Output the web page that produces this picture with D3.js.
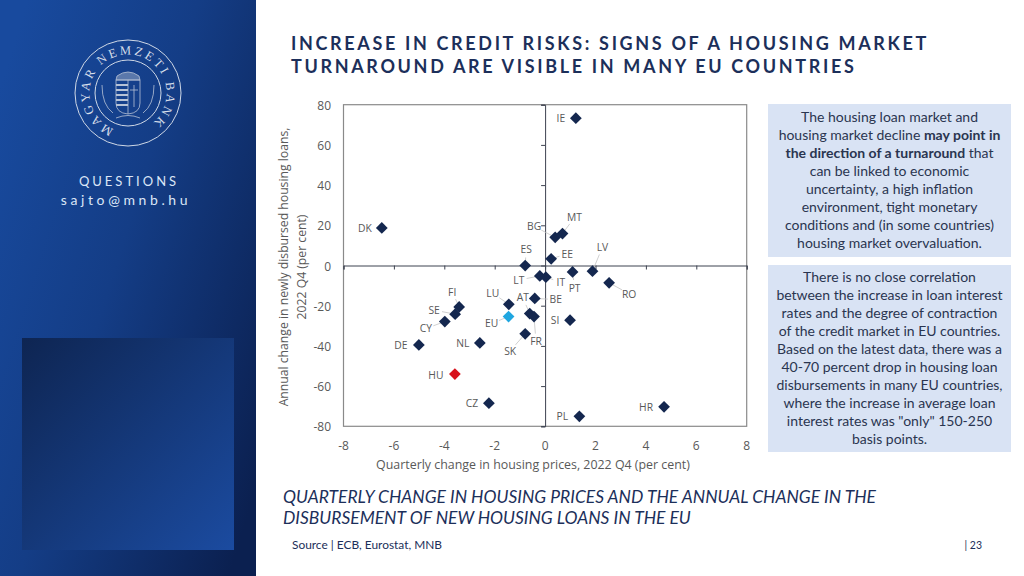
<!DOCTYPE html>
<html><head><meta charset="utf-8">
<script src="https://cdnjs.cloudflare.com/ajax/libs/d3/7.8.5/d3.min.js"></script>
<style>html,body{margin:0;padding:0;background:#fff;overflow:hidden}svg{display:block}</style>
</head><body><svg id="c" width="1024" height="576"></svg>
<script>
const countries=["IE","DK","BG","MT","EE","ES","LV","PT","RO","LT","IT","BE","SI","AT","FR","SK","LU","EU","FI","SE","CY","DE","NL","HU","CZ","PL","HR"];
const priceChange=[1.22,-6.48,0.4,0.69,0.24,-0.79,1.88,1.09,2.54,-0.21,0.03,-0.41,0.99,-0.61,-0.44,-0.79,-1.44,-1.45,-3.41,-3.57,-3.98,-5.01,-2.59,-3.58,-2.23,1.36,4.72];
const loanChange=[73.3,18.7,14,15.9,3.3,0,-2.8,-3.2,-8.6,-5.2,-5.8,-16.4,-27.2,-23.9,-25.4,-34,-19.3,-25.4,-20.6,-24.2,-27.9,-39.5,-38.5,-54,-68.5,-75,-70.3];
const xTicks=[-8,-6,-4,-2,0,2,4,6,8];
const yTicks=[-80,-60,-40,-20,0,20,40,60,80];
const titleLines=["INCREASE IN CREDIT RISKS: SIGNS OF A HOUSING MARKET","TURNAROUND ARE VISIBLE IN MANY EU COUNTRIES"];
const subtitleLines=["QUARTERLY CHANGE IN HOUSING PRICES AND THE ANNUAL CHANGE IN THE","DISBURSEMENT OF NEW HOUSING LOANS IN THE EU"];
const box1=[[["The housing loan market and",0]],[["housing market decline ",0],["may point in",1]],[["the direction of a turnaround",1],[" that",0]],[["can be linked to economic",0]],[["uncertainty, a high inflation",0]],[["environment, tight monetary",0]],[["conditions and (in some countries)",0]],[["housing market overvaluation.",0]]];
const box2=["There is no close correlation","between the increase in loan interest","rates and the degree of contraction","of the credit market in EU countries.","Based on the latest data, there was a","40-70 percent drop in housing loan","disbursements in many EU countries,","where the increase in average loan","interest rates was \"only\" 150-250","basis points."];

// label layout: pixel offset of each label from its marker; third entry = draw connector
const labelLayout={IE:[-15,0],DK:[-17,0],BG:[-21,-11,1],MT:[12,-16,1],EE:[16,-5,1],ES:[1,-16,1],LV:[10,-24,1],PT:[2,16,1],RO:[20,11,1],LT:[-21,4,1],IT:[15,5,1],BE:[21,1,1],SI:[-15,0],AT:[-7,-16,1],FR:[2,25,1],SK:[-15,17,1],LU:[-16,-11,1],EU:[-17,7,1],FI:[-7,-15,1],SE:[-21,-4,1],CY:[-19,7,1],DE:[-18,0],NL:[-17,0],HU:[-19,1],CZ:[-17,0],PL:[-17,0],HR:[-18,0]};

const svg=d3.select("#c"), defs=svg.append("defs");
function grad(id,x1,y1,x2,y2,stops){const g=defs.append("linearGradient").attr("id",id).attr("x1",x1).attr("y1",y1).attr("x2",x2).attr("y2",y2);
 stops.forEach(s=>g.append("stop").attr("offset",s[0]).attr("stop-color",s[1]));}
grad("side",0,0.15,1,0.85,[[0,"#184a9e"],[0.45,"#143d86"],[1,"#0b2050"]]);
grad("inner",0,0,1,1,[[0,"#0e2552"],[1,"#1b4ba0"]]);
svg.append("rect").attr("width",256).attr("height",576).attr("fill","url(#side)");
svg.append("rect").attr("x",22).attr("y",338).attr("width",212).attr("height",212).attr("fill","url(#inner)");

// logo
const logo=svg.append("g").attr("transform","translate(128,93)").attr("fill","none").attr("stroke","#cfd8e6");
logo.append("circle").attr("r",53).attr("stroke-width",1);
logo.append("circle").attr("r",33).attr("stroke-width",1);
defs.append("path").attr("id","ringb").attr("d","M -14,36 A 38.6,38.6 0 1 1 14,36");
logo.append("text").attr("fill","#d6deea").attr("stroke","none").style("font-family","'Liberation Serif'").style("font-size","12.5px").style("letter-spacing","2.75px")
 .append("textPath").attr("href","#ringb").text("MAGYAR NEMZETI BANK");
const crest=logo.append("g").attr("stroke","#b6c2d6").attr("stroke-width",0.8);
crest.append("path").attr("d","M-12,-13 H12 V10 Q12,20 0,21 Q-12,20 -12,10 Z");
crest.append("path").attr("d","M-11,-17 Q0,-25 11,-17 L12,-13 H-12 Z").attr("fill","#9fb0c9").attr("fill-opacity",0.5);
d3.range(-8,16,5).forEach(y=>crest.append("path").attr("d",`M-12,${y} H0`).attr("stroke-width",2));
crest.append("path").attr("d","M0,-13 V21 M6,-8 V14 M2,-3 H10");
crest.append("path").attr("d","M-15,20 Q-26,12 -26,-8 M15,20 Q26,12 26,-8 M-12,25 Q0,20 12,25");

// sidebar text
const sans="Lato", cfont="'Open Sans'";
svg.append("text").attr("x",129).attr("y",186).attr("text-anchor","middle").attr("fill","#dbe6f7").style("font-family",sans).style("font-size","13px").style("letter-spacing","3px").text("QUESTIONS");
svg.append("text").attr("x",126).attr("y",205).attr("text-anchor","middle").attr("fill","#dbe6f7").style("font-family",sans).style("font-size","14px").style("letter-spacing","3.6px").text("sajto@mnb.hu");

// titles
svg.append("g").selectAll("text").data(titleLines).join("text").attr("x",291).attr("y",(d,i)=>50+i*23).attr("fill","#1c2f5a")
 .style("font-family",sans).style("font-weight",700).style("font-size","18px").style("letter-spacing","2.65px").text(d=>d);
svg.append("g").selectAll("text").data(subtitleLines).join("text").attr("x",283).attr("y",(d,i)=>503+i*21).attr("fill","#1c2f5a")
 .style("font-family",sans).style("font-style","italic").style("font-size","17.45px").text(d=>d);
svg.append("text").attr("x",292).attr("y",549).attr("fill","#1c2f5a").style("font-family",sans).style("font-size","11.9px").text("Source | ECB, Eurostat, MNB");
svg.append("text").attr("x",982).attr("y",549).attr("text-anchor","end").attr("fill","#1c2f5a").style("font-family",sans).style("font-size","10.5px").text("| 23");

// boxes
svg.append("rect").attr("x",768).attr("y",104).attr("width",243).attr("height",153).attr("fill","#d9e3f4");
svg.append("rect").attr("x",768).attr("y",265).attr("width",243).attr("height",187).attr("fill","#d9e3f4");
const t1=svg.append("g").selectAll("text").data(box1).join("text").attr("x",889.5).attr("y",(d,i)=>122+i*18).attr("text-anchor","middle").attr("fill","#2a3550").style("font-family",sans).style("font-size","14px");
t1.selectAll("tspan").data(d=>d).join("tspan").style("font-weight",d=>d[1]?700:400).text(d=>d[0]);
svg.append("g").selectAll("text").data(box2).join("text").attr("x",889.5).attr("y",(d,i)=>282+i*18).attr("text-anchor","middle").attr("fill","#2a3550").style("font-family",sans).style("font-size","14px").text(d=>d);

// chart
const x=d3.scaleLinear().domain([-8,8]).range([343.5,746.7]);
const y=d3.scaleLinear().domain([-80,80]).range([426.3,104.7]);
const g=svg.append("g");
g.append("rect").attr("x",x(-8)).attr("y",y(80)).attr("width",x(8)-x(-8)).attr("height",y(-80)-y(80)).attr("fill","#fff").attr("stroke","#8a8a8a").attr("stroke-width",1.2);
const ax=d3.axisBottom(x).tickValues(xTicks).tickSize(4).tickFormat("");
const ay=d3.axisLeft(y).tickValues(yTicks).tickSize(4).tickFormat("");
const gx=g.append("g").attr("transform",`translate(0,${y(0)})`).call(ax);
const gy=g.append("g").attr("transform",`translate(${x(0)},0)`).call(ay);
[gx,gy].forEach(a=>{a.selectAll("path,line").attr("stroke","#3d4250").attr("stroke-width",1);});
g.append("g").selectAll("text").data(xTicks).join("text").attr("x",d=>x(d)).attr("y",450).attr("text-anchor","middle").attr("fill","#595959").style("font-family",cfont).style("font-size","12px").text(d=>d);
g.append("g").selectAll("text").data(yTicks).join("text").attr("x",331).attr("y",d=>y(d)+5).attr("text-anchor","end").attr("fill","#595959").style("font-family",cfont).style("font-size","12px").text(d=>d);
g.append("text").attr("x",533).attr("y",469).attr("text-anchor","middle").attr("fill","#595959").style("font-family",cfont).style("font-size","12.4px").text("Quarterly change in housing prices, 2022 Q4 (per cent)");
const yl=g.append("text").attr("transform","translate(288,267) rotate(-90)").attr("text-anchor","middle").attr("fill","#595959").style("font-family",cfont).style("font-size","12.2px");
yl.append("tspan").attr("x",0).attr("y",0).text("Annual change in newly disbursed housing loans,");
yl.append("tspan").attr("x",0).attr("y",18).text("2022 Q4 (per cent)");

const pts=countries.map((c,i)=>({c,px:x(priceChange[i]),py:y(loanChange[i]),l:labelLayout[c]}));
// leaders
g.append("g").selectAll("path").data(pts.filter(d=>d.l[2])).join("path")
 .attr("d",d=>{const lx=d.px+d.l[0],ly=d.py+d.l[1];const dx=lx-d.px,dy=ly-d.py,n=Math.hypot(dx,dy),k=Math.max(0,n-8)/n;return d3.line()([[d.px,d.py],[d.px+dx*k,d.py+dy*k]]);})
 .attr("fill","none").attr("stroke","#c4c4c4").attr("stroke-width",0.8);
const marker=d3.symbol().type(d3.symbolDiamond2||d3.symbolSquare).size(88);
g.append("g").selectAll("path").data(pts).join("path").attr("transform",d=>`translate(${d.px},${d.py}) rotate(${d3.symbolDiamond2?0:45})`).attr("d",marker)
 .attr("fill",d=>d.c==="EU"?"#1fa6e0":d.c==="HU"?"#d8121c":"#14274f");
g.append("g").selectAll("text").data(pts).join("text").attr("x",d=>d.px+d.l[0]).attr("y",d=>d.py+d.l[1]+3.8).attr("text-anchor","middle").attr("fill","#595959").style("font-family",cfont).style("font-size","10.3px").text(d=>d.c);
</script></body></html>
